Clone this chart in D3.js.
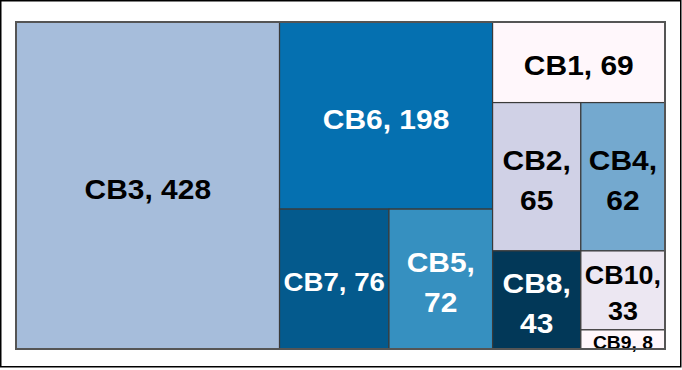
<!DOCTYPE html>
<html>
<head>
<meta charset="utf-8">
<script src="https://cdn.jsdelivr.net/npm/d3@7"></script>
<style>
  html, body { margin: 0; padding: 0; background: #fff; }
  svg { display: block; }
</style>
</head>
<body>
<div id="chart"></div>
<script>
// Data
const categories = ['CB3', 'CB6', 'CB7', 'CB5', 'CB1', 'CB2', 'CB4', 'CB8', 'CB10', 'CB9'];
const values = [428, 198, 76, 72, 69, 65, 62, 43, 33, 8];
// nesting of the tiles (rows/columns alternate by depth)
const nesting = ['CB3', ['CB6', ['CB7', 'CB5']], ['CB1', ['CB2', 'CB4'], ['CB8', ['CB10', 'CB9']]]];

const W = 682, H = 370;
const margin = { left: 16, top: 22, right: 17, bottom: 21 };
const width = W - margin.left - margin.right;
const height = H - margin.top - margin.bottom;

const FONT = '"Liberation Sans", Arial, Helvetica, sans-serif';
const F = 28;      // base label size
const SX = 1.07;   // labels look slightly stretched horizontally
const PAD = 4;
const LH = 1.43;

const valueOf = new Map(categories.map((c, i) => [c, values[i]]));
const toNode = item => typeof item === 'string'
  ? { name: item, value: valueOf.get(item) }
  : { children: item.map(toNode) };

const root = d3.hierarchy(toNode(nesting)).sum(d => d.value || 0);
d3.treemap().tile(d3.treemapSliceDice).size([width, height])(root);

const color = d3.scaleOrdinal(d3.schemePuBu[9]).domain(categories.slice().sort());

const svg = d3.select('#chart').append('svg')
  .attr('width', W).attr('height', H);

// picture frame
svg.append('rect')
  .attr('x', 0.75).attr('y', 0.75).attr('width', 680).attr('height', 366)
  .attr('fill', 'none').attr('stroke', '#000').attr('stroke-width', 1.5);

const viz = svg.append('g').attr('transform', `translate(${margin.left},${margin.top})`);

const ctx = document.createElement('canvas').getContext('2d');
function em(str) {
  ctx.font = `bold 100px ${FONT}`;
  return ctx.measureText(str).width / 100 * SX;
}

const leaves = root.leaves();

const cell = viz.selectAll('g.cell').data(leaves).join('g')
  .attr('class', 'cell')
  .attr('transform', d => `translate(${d.x0},${d.y0})`);

cell.append('rect')
  .attr('width', d => d.x1 - d.x0)
  .attr('height', d => d.y1 - d.y0)
  .attr('fill', d => color(d.data.name))
  .attr('stroke', '#3a3a3a')
  .attr('stroke-width', 1.2);

// outer border
viz.append('rect')
  .attr('width', width).attr('height', height)
  .attr('fill', 'none').attr('stroke', '#555').attr('stroke-width', 2);

cell.each(function (d) {
  const w = d.x1 - d.x0, h = d.y1 - d.y0;
  const single = [`${d.data.name}, ${d.data.value}`];
  const wrapped = [`${d.data.name},`, `${d.data.value}`];
  const s1 = Math.min(F, (w - 2 * PAD) / em(single[0]), (h - 2) / 0.95);
  const s2 = Math.min(F, (w - 2 * PAD) / d3.max(wrapped, em), (h - 2 * PAD) / (LH + 0.95));
  const useSingle = s1 >= 0.9 * F || s1 >= s2;
  const lines = useSingle ? single : wrapped;
  const s = useSingle ? s1 : s2;
  const block = 0.72 * s + (lines.length - 1) * LH * s;
  const firstBase = h / 2 + 3 - block / 2 + 0.72 * s;
  const fill = d3.lab(color(d.data.name)).l < 60 ? '#fff' : '#000';

  const g = d3.select(this).append('g')
    .attr('transform', `translate(${w / 2},0) scale(${SX},1)`);
  g.selectAll('text').data(lines).join('text')
    .attr('x', 0)
    .attr('y', (t, i) => firstBase + i * LH * s)
    .attr('text-anchor', 'middle')
    .attr('font-family', FONT)
    .attr('font-weight', 'bold')
    .attr('font-size', s)
    .attr('fill', fill)
    .text(t => t);
});
</script>
</body>
</html>
